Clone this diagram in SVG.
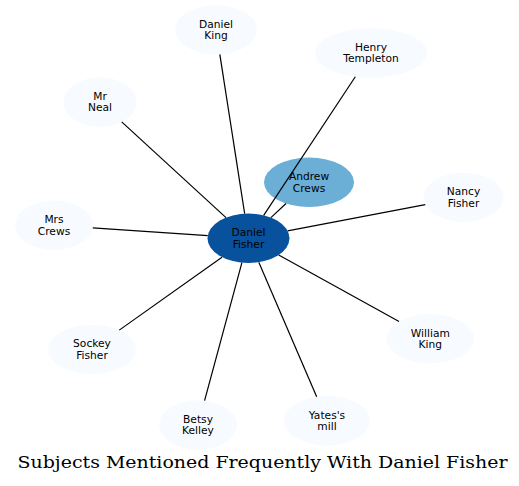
<svg xmlns="http://www.w3.org/2000/svg" width="519" height="486" viewBox="0 0 519 486">
<style>
.n{fill:#f7fbff;stroke:none}
.e{stroke:#000;stroke-width:1.2;fill:none}
text{font-family:"DejaVu Sans",sans-serif;font-size:10.67px;text-anchor:middle;fill:#000}
.t{font-family:"DejaVu Serif",serif;font-size:16.5px;text-anchor:start}
</style>
<rect width="519" height="486" fill="#fff"/>
<g id="daniel-king"><ellipse class="n" cx="216" cy="29.7" rx="41" ry="24.7"/><text x="216" y="27.6">Daniel</text><text x="216" y="38.9">King</text></g>
<g id="henry-templeton"><ellipse class="n" cx="371" cy="53" rx="56" ry="24.7"/><text x="371" y="50.9">Henry</text><text x="371" y="62.2">Templeton</text></g>
<g id="mr-neal"><ellipse class="n" cx="100" cy="102" rx="36.7" ry="24.7"/><text x="100" y="99.9">Mr</text><text x="100" y="111.2">Neal</text></g>
<g id="andrew-crews"><ellipse cx="309" cy="182.3" rx="45" ry="24.7" fill="#6baed6"/><text x="309" y="180.2">Andrew</text><text x="309" y="191.5">Crews</text></g>
<g id="nancy-fisher"><ellipse class="n" cx="463.5" cy="197.3" rx="40" ry="24.7"/><text x="463.5" y="195.2">Nancy</text><text x="463.5" y="206.5">Fisher</text></g>
<g id="mrs-crews"><ellipse class="n" cx="54" cy="225.3" rx="39" ry="24.7"/><text x="54" y="223.2">Mrs</text><text x="54" y="234.5">Crews</text></g>
<g id="daniel-fisher"><ellipse cx="248.5" cy="238.3" rx="41" ry="24.7" fill="#08519c"/><text x="248.5" y="236.2">Daniel</text><text x="248.5" y="247.5">Fisher</text></g>
<g id="sockey-fisher"><ellipse class="n" cx="92" cy="349.5" rx="44" ry="24.7"/><text x="92" y="347.4">Sockey</text><text x="92" y="358.7">Fisher</text></g>
<g id="betsy-kelley"><ellipse class="n" cx="198" cy="425" rx="39" ry="24.7"/><text x="198" y="422.9">Betsy</text><text x="198" y="434.2">Kelley</text></g>
<g id="yates-mill"><ellipse class="n" cx="327" cy="420.7" rx="43" ry="24.7"/><text x="327" y="418.6">Yates's</text><text x="327" y="429.9">mill</text></g>
<g id="william-king"><ellipse class="n" cx="430.3" cy="338.7" rx="43.7" ry="24.7"/><text x="430.3" y="336.6">William</text><text x="430.3" y="347.9">King</text></g>
<g id="edges">
<line class="e" x1="244.67" y1="213.71" x2="219.83" y2="54.29"/>
<line class="e" x1="263.67" y1="215.35" x2="355.32" y2="76.71"/>
<line class="e" x1="226.0" y1="217.65" x2="121.7" y2="121.92"/>
<line class="e" x1="270.87" y1="217.6" x2="286.05" y2="203.55"/>
<line class="e" x1="287.59" y1="230.85" x2="425.28" y2="204.59"/>
<line class="e" x1="207.75" y1="235.58" x2="92.78" y2="227.89"/>
<line class="e" x1="221.98" y1="257.14" x2="119.27" y2="330.12"/>
<line class="e" x1="241.91" y1="262.68" x2="204.59" y2="400.65"/>
<line class="e" x1="258.79" y1="262.21" x2="316.68" y2="396.72"/>
<line class="e" x1="278.72" y1="254.99" x2="399.04" y2="321.44"/>
</g>
<text class="t" x="17.5" y="468" textLength="490" lengthAdjust="spacingAndGlyphs">Subjects Mentioned Frequently With Daniel Fisher</text>
</svg>
